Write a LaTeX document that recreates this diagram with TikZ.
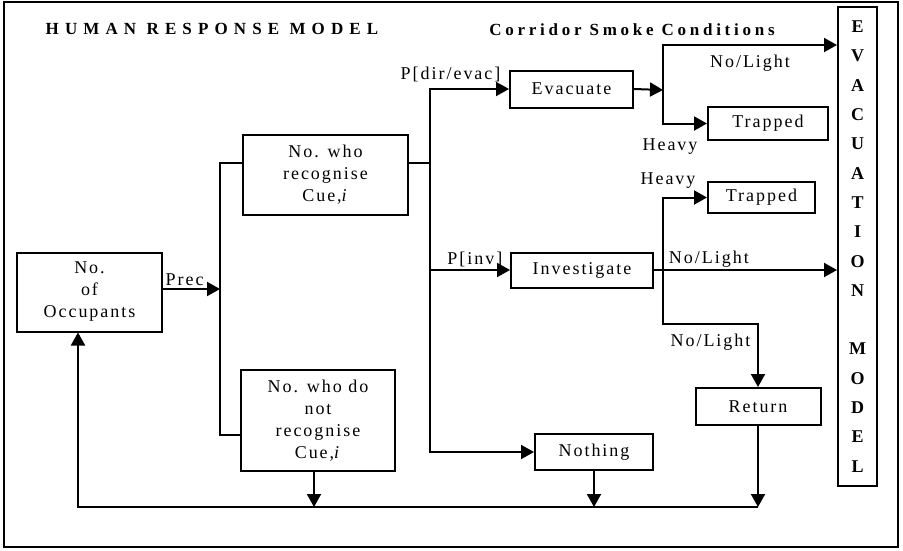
\documentclass[tikz,border=0pt]{standalone}
\usepackage{fontspec}
\setmainfont{Liberation Serif}[LetterSpace=11]
\newfontfamily\headfont{Liberation Serif}[LetterSpace=22]
\newfontfamily\titlefont{Liberation Serif}[LetterSpace=36]
\usetikzlibrary{arrows.meta}

\begin{document}
\begin{tikzpicture}[
    x=1pt, y=-1pt,
    box/.style    ={rectangle, draw=black, line width=2pt, align=center, inner sep=0pt,
                    font=\fontsize{18}{22}\selectfont},
    line/.style   ={line width=2pt},
    arrow/.style  ={line width=2pt, -{Triangle[length=13pt, width=14pt]}},
    lbl/.style    ={font=\fontsize{18}{20}\selectfont, inner sep=2pt},
    heading/.style={font=\headfont\bfseries\fontsize{17}{20}\selectfont}
  ]
  \useasboundingbox (0,0) rectangle (903,550);
  \draw[line width=1.4pt] (4,2) rectangle (898,547);

  % headings
  \node[heading, font=\titlefont\bfseries\fontsize{17}{20}\selectfont] (title) at (212,29) {HUMAN RESPONSE\ MODEL};
  \node[heading] (smoke) at (632,30) {Corridor Smoke Conditions};

  % boxes
  \node[box, minimum width=145, minimum height=79]  (occ)    at (89.5,292)  {No.\\of\\Occupants};
  \node[box, minimum width=165, minimum height=80]  (rec)    at (325.5,175) {No. who\\recognise\\Cue,\textit{i}};
  \node[box, minimum width=154, minimum height=101] (notrec) at (318,420.5) {No. who do\\not\\recognise\\Cue,\textit{i}};
  \node[box, minimum width=123, minimum height=37]  (evac)   at (571.5,89)  {Evacuate};
  \node[box, minimum width=120, minimum height=33]  (trap1)  at (768,123.5) {Trapped};
  \node[box, minimum width=142, minimum height=35]  (inv)    at (582,270)   {Investigate};
  \node[box, minimum width=107, minimum height=31]  (trap2)  at (761.5,197.5) {Trapped};
  \node[box, minimum width=125, minimum height=37]  (ret)    at (758,406.5) {Return};
  \node[box, minimum width=118, minimum height=36]  (noth)   at (594,452)   {Nothing};
  \node[box, minimum width=39, minimum height=479,
        font=\bfseries\fontsize{18}{29.3}\selectfont] (evm) at (857.5,246.5)
        {E\\V\\A\\C\\U\\A\\T\\I\\O\\N\\~\\M\\O\\D\\E\\L};

  % branch points
  \coordinate (prec)  at (220,289);
  \coordinate (split) at (430,163);
  \coordinate (evsp)  at (663,90);
  \coordinate (invsp) at (663,270);
  \coordinate (back)  at (758,507);

  % recognition
  \draw[arrow] (occ.east |- prec) -- node[lbl, above, pos=0.38]{Prec} (prec);
  \draw[line] ([yshift=12pt]rec.west) -| (prec) |- ([yshift=-14.5pt]notrec.west);

  % response
  \draw[line]  ([yshift=12pt]rec.east) -- (split);
  \draw[arrow] (split) |- node[lbl, above, yshift=4pt, pos=0.63]{P[dir/evac]} (evac.west);
  \draw[arrow] (split) |- node[lbl, above, pos=0.78]{P[inv]} (inv.west);
  \draw[arrow] (split) |- (noth.west);

  % corridor smoke, evacuate
  \draw[arrow] (evac.east) -- (evsp);
  \draw[arrow] (evsp) |- node[lbl, below, yshift=-7pt, pos=0.75]{No/Light} (evm.west |- 0,45);
  \draw[arrow] (evsp) |- node[lbl, below, xshift=7pt, yshift=-12pt, pos=0.5]{Heavy} (trap1.west);

  % corridor smoke, investigate
  \draw[arrow] (inv.east) -- node[lbl, above, pos=0.3]{No/Light} (evm.west |- inv.east);
  \draw[arrow] (invsp) |- node[lbl, above, xshift=5pt, yshift=6pt, pos=0.5]{Heavy} (trap2.west);
  \draw[arrow] (invsp) -- ++(0,54) -| node[lbl, below, yshift=-7pt, pos=0.25]{No/Light} (ret.north);

  % feedback
  \draw[arrow] (ret.south) -- (back);
  \draw[arrow] (noth.south) -- (noth.south |- back);
  \draw[arrow] ([xshift=-4pt]notrec.south) -- ([xshift=-4pt]notrec.south |- back);
  \draw[arrow] (back) -| ([xshift=-11.5pt]occ.south);
\end{tikzpicture}
\end{document}
